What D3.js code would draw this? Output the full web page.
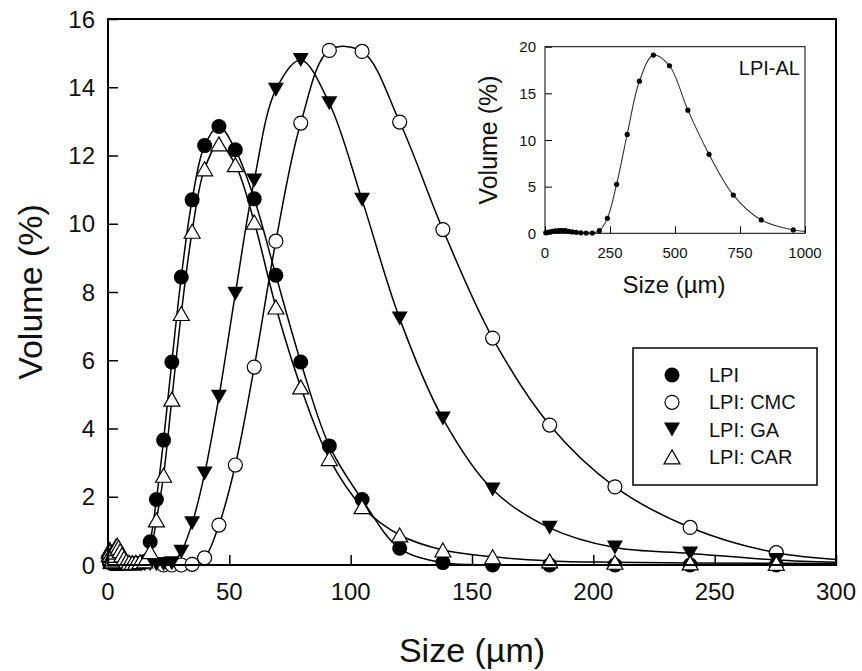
<!DOCTYPE html>
<html>
<head>
<meta charset="utf-8">
<script src="https://cdn.jsdelivr.net/npm/d3@7"></script>
<style>
  html, body { margin: 0; padding: 0; background: #fff; }
  svg { display: block; font-family: Arial, "Liberation Sans", sans-serif; }
</style>
</head>
<body>
<svg id="chart" width="862" height="671"></svg>
<script>
// Size classes (µm) of the laser-diffraction bins
const sizes = [0.479, 0.550, 0.631, 0.724, 0.832, 0.955, 1.096, 1.259, 1.445, 1.660,
  1.905, 2.188, 2.512, 2.884, 3.311, 3.802, 4.365, 5.012, 5.754, 6.607,
  7.586, 8.710, 10.00, 11.48, 13.18, 15.14, 17.38, 19.95, 22.91, 26.30,
  30.20, 34.67, 39.81, 45.71, 52.48, 60.26, 69.18, 79.43, 91.20, 104.7,
  120.2, 138.0, 158.5, 182.0, 208.9, 239.9, 275.4, 316.2];

// Volume (%) per size class
const lpi = [0.10, 0.15, 0.20, 0.20, 0.20, 0.15, 0.10, 0.08, 0.05, 0.05,
  0.05, 0.05, 0.05, 0.05, 0.05, 0.05, 0.05, 0.05, 0.05, 0.05,
  0.05, 0.05, 0.05, 0.05, 0.05, 0.10, 0.68, 1.92, 3.66, 5.95,
  8.44, 10.70, 12.29, 12.85, 12.17, 10.73, 8.49, 5.95, 3.49, 1.92,
  0.49, 0.07, 0.00, 0.00, 0.00, 0.00, 0.00, 0.00];

const lpiCmc = [null, null, null, null, null, null, null, null, null, null,
  null, null, null, null, null, null, null, null, null, null,
  null, null, null, null, null, null, null, null, 0.00, 0.00,
  0.00, 0.02, 0.21, 1.17, 2.93, 5.80, 9.49, 12.95, 15.08, 15.05,
  12.98, 9.83, 6.65, 4.10, 2.29, 1.10, 0.36, 0.10];

const lpiGa = [0.05, 0.08, 0.10, 0.10, 0.08, 0.05, 0.03, 0.02, 0.02, 0.02,
  0.02, 0.02, 0.02, 0.02, 0.02, 0.02, 0.02, 0.02, 0.02, 0.02,
  0.02, 0.02, 0.02, 0.02, 0.02, 0.02, 0.02, 0.02, 0.02, 0.05,
  0.39, 1.22, 2.68, 4.93, 7.95, 11.27, 13.93, 14.80, 13.53, 10.70,
  7.22, 4.29, 2.21, 1.09, 0.51, 0.34, 0.15, 0.05];

const lpiCar = [0.30, 0.40, 0.45, 0.45, 0.40, 0.30, 0.20, 0.12, 0.10, 0.12,
  0.18, 0.28, 0.38, 0.48, 0.55, 0.58, 0.52, 0.42, 0.30, 0.20,
  0.12, 0.08, 0.07, 0.08, 0.10, 0.12, 0.39, 1.32, 2.63, 4.86,
  7.37, 9.78, 11.61, 12.34, 11.73, 10.05, 7.56, 5.22, 3.12, 1.71,
  0.88, 0.44, 0.24, 0.12, 0.08, 0.06, 0.05, 0.04];

// Inset: LPI-AL
const alSizes = [3, 10, 20, 30, 40, 52.5, 60.3, 69.2, 79.4, 91.2, 104.7, 120.2, 138.0,
  158.5, 182.0, 208.9, 239.9, 275.4, 316.2, 363.1, 416.9, 478.6, 549.5, 631.0,
  724.4, 831.8, 955.0, 1096.5];
const alVolume = [0.05, 0.10, 0.15, 0.20, 0.25, 0.28, 0.30, 0.30, 0.28, 0.22, 0.15, 0.10, 0.05,
  0.03, 0.03, 0.28, 1.60, 5.25, 10.60, 16.30, 19.10, 17.96, 13.20, 8.46,
  4.10, 1.43, 0.36, 0.05];

const xTicks = [0, 50, 100, 150, 200, 250, 300];
const yTicks = [0, 2, 4, 6, 8, 10, 12, 14, 16];
const insetXTicks = [0, 250, 500, 750, 1000];
const insetYTicks = [0, 5, 10, 15, 20];

const seriesNames = ["LPI", "LPI: CMC", "LPI: GA", "LPI: CAR"];
const seriesValues = [lpi, lpiCmc, lpiGa, lpiCar];
const seriesMarkers = ["circleFilled", "circleOpen", "triDownFilled", "triUpOpen"];

const svg = d3.select("#chart");

// ---- main plot ----
const M = { left: 108, right: 836, top: 19, bottom: 565 };
const x = d3.scaleLinear().domain([0, 300]).range([M.left, M.right]);
const y = d3.scaleLinear().domain([0, 16]).range([M.bottom, M.top]);

svg.append("defs").append("clipPath").attr("id", "plotClip")
  .append("rect").attr("x", M.left).attr("y", M.top - 20)
  .attr("width", M.right - M.left).attr("height", M.bottom - M.top + 20);

function markerPath(type) {
  const w = 8, h = 7;
  if (type === "triUpOpen") return `M0,${-h}L${w},${h}L${-w},${h}Z`;
  if (type === "triDownFilled") return `M0,${h}L${w},${-h}L${-w},${-h}Z`;
  return null;
}

function drawMarker(g, type, cx, cy) {
  if (type === "circleFilled") {
    g.append("circle").attr("cx", cx).attr("cy", cy).attr("r", 7.5).attr("fill", "#000");
  } else if (type === "circleOpen") {
    g.append("circle").attr("cx", cx).attr("cy", cy).attr("r", 7)
      .attr("fill", "#fff").attr("stroke", "#000").attr("stroke-width", 1.2);
  } else if (type === "triDownFilled") {
    g.append("path").attr("d", markerPath(type)).attr("transform", `translate(${cx},${cy})`)
      .attr("fill", "#000");
  } else {
    g.append("path").attr("d", markerPath(type)).attr("transform", `translate(${cx},${cy})`)
      .attr("fill", "#fff").attr("stroke", "#000").attr("stroke-width", 1.2);
  }
}

const line = d3.line()
  .defined(d => d[1] !== null)
  .x(d => x(d[0])).y(d => y(d[1]))
  .curve(d3.curveCatmullRom.alpha(0.5));

const plot = svg.append("g");
const lineLayer = plot.append("g").attr("clip-path", "url(#plotClip)");
const markLayer = plot.append("g");

seriesValues.forEach((vals, i) => {
  const pts = sizes.map((s, j) => [s, vals[j]]).filter(d => d[1] !== null);
  lineLayer.append("path").datum(pts).attr("d", line)
    .attr("fill", "none").attr("stroke", "#000").attr("stroke-width", 1.5);
});
seriesValues.forEach((vals, i) => {
  const g = markLayer.append("g");
  sizes.forEach((s, j) => {
    if (vals[j] === null || s > 300) return;
    drawMarker(g, seriesMarkers[i], x(s), y(vals[j]));
  });
});

// frame
svg.append("rect").attr("x", M.left).attr("y", M.top)
  .attr("width", M.right - M.left).attr("height", M.bottom - M.top)
  .attr("fill", "none").attr("stroke", "#000").attr("stroke-width", 2);

// axes with inward ticks
const xAxis = d3.axisTop(x).tickValues(xTicks).tickSize(10).tickFormat("");
svg.append("g").attr("transform", `translate(0,${M.bottom})`).call(xAxis)
  .call(g => g.select(".domain").remove())
  .call(g => g.selectAll(".tick line").attr("stroke", "#000").attr("stroke-width", 1.5));
const yAxis = d3.axisRight(y).tickValues(yTicks).tickSize(10).tickFormat("");
svg.append("g").attr("transform", `translate(${M.left},0)`).call(yAxis)
  .call(g => g.select(".domain").remove())
  .call(g => g.selectAll(".tick line").attr("stroke", "#000").attr("stroke-width", 1.5));

// tick labels
svg.append("g").selectAll("text").data(xTicks).join("text")
  .attr("x", d => x(d)).attr("y", M.bottom + 35)
  .attr("text-anchor", "middle").attr("font-size", 24).attr("fill", "#111")
  .text(d => d);
svg.append("g").selectAll("text").data(yTicks).join("text")
  .attr("x", M.left - 13).attr("y", d => y(d) + 8.5)
  .attr("text-anchor", "end").attr("font-size", 24).attr("fill", "#111")
  .text(d => d);

// axis titles
svg.append("text").attr("x", (M.left + M.right) / 2).attr("y", 662)
  .attr("text-anchor", "middle").attr("font-size", 34).attr("fill", "#111")
  .text("Size (µm)");
svg.append("text").attr("transform", `translate(42,${(M.top + M.bottom) / 2}) rotate(-90)`)
  .attr("text-anchor", "middle").attr("font-size", 34).attr("fill", "#111")
  .text("Volume (%)");

// legend
const L = { x: 633, y: 348, w: 184, h: 137 };
const legend = svg.append("g");
legend.append("rect").attr("x", L.x).attr("y", L.y).attr("width", L.w).attr("height", L.h)
  .attr("fill", "#fff").attr("stroke", "#000").attr("stroke-width", 1.5);
seriesNames.forEach((name, i) => {
  const cy = 375 + i * 27.3;
  drawMarker(legend, seriesMarkers[i], 672, cy);
  legend.append("text").attr("x", 709).attr("y", cy + 7)
    .attr("font-size", 20).attr("fill", "#111").text(name);
});

// ---- inset ----
const I = { left: 545, right: 805, top: 46.7, bottom: 233.3 };
const ix = d3.scaleLinear().domain([0, 1000]).range([I.left, I.right]);
const iy = d3.scaleLinear().domain([0, 20]).range([I.bottom, I.top]);

svg.append("defs").append("clipPath").attr("id", "insetClip")
  .append("rect").attr("x", I.left).attr("y", I.top - 10)
  .attr("width", I.right - I.left).attr("height", I.bottom - I.top + 10);

const inset = svg.append("g");
inset.append("rect").attr("x", I.left).attr("y", I.top)
  .attr("width", I.right - I.left).attr("height", I.bottom - I.top).attr("fill", "#fff");

const iline = d3.line().x(d => ix(d[0])).y(d => iy(d[1])).curve(d3.curveCatmullRom.alpha(0.5));
const alPts = alSizes.map((s, j) => [s, alVolume[j]]);
inset.append("path").datum(alPts).attr("d", iline).attr("clip-path", "url(#insetClip)")
  .attr("fill", "none").attr("stroke", "#333").attr("stroke-width", 1.1);
inset.append("g").selectAll("circle").data(alPts.filter(d => d[0] <= 1000)).join("circle")
  .attr("cx", d => ix(d[0])).attr("cy", d => iy(d[1])).attr("r", 2.6).attr("fill", "#000");

inset.append("rect").attr("x", I.left).attr("y", I.top)
  .attr("width", I.right - I.left).attr("height", I.bottom - I.top)
  .attr("fill", "none").attr("stroke", "#000").attr("stroke-width", 1);

inset.append("g").attr("transform", `translate(0,${I.bottom})`)
  .call(d3.axisTop(ix).tickValues(insetXTicks).tickSize(7).tickFormat(""))
  .call(g => g.select(".domain").remove())
  .call(g => g.selectAll(".tick line").attr("stroke", "#000"));
inset.append("g").attr("transform", `translate(${I.left},0)`)
  .call(d3.axisRight(iy).tickValues(insetYTicks).tickSize(7).tickFormat(""))
  .call(g => g.select(".domain").remove())
  .call(g => g.selectAll(".tick line").attr("stroke", "#000"));

inset.append("g").selectAll("text").data(insetXTicks).join("text")
  .attr("x", d => ix(d)).attr("y", 258)
  .attr("text-anchor", "middle").attr("font-size", 15).attr("fill", "#111").text(d => d);
inset.append("g").selectAll("text").data(insetYTicks).join("text")
  .attr("x", 536).attr("y", d => iy(d) + 5.5)
  .attr("text-anchor", "end").attr("font-size", 15).attr("fill", "#111").text(d => d);

inset.append("text").attr("x", 674).attr("y", 293)
  .attr("text-anchor", "middle").attr("font-size", 24).attr("fill", "#111").text("Size (µm)");
inset.append("text").attr("transform", `translate(497,${(I.top + I.bottom) / 2}) rotate(-90)`)
  .attr("text-anchor", "middle").attr("font-size", 25).attr("fill", "#111").text("Volume (%)");
inset.append("text").attr("x", 800).attr("y", 75)
  .attr("text-anchor", "end").attr("font-size", 20).attr("fill", "#111").text("LPI-AL");
</script>
</body>
</html>
